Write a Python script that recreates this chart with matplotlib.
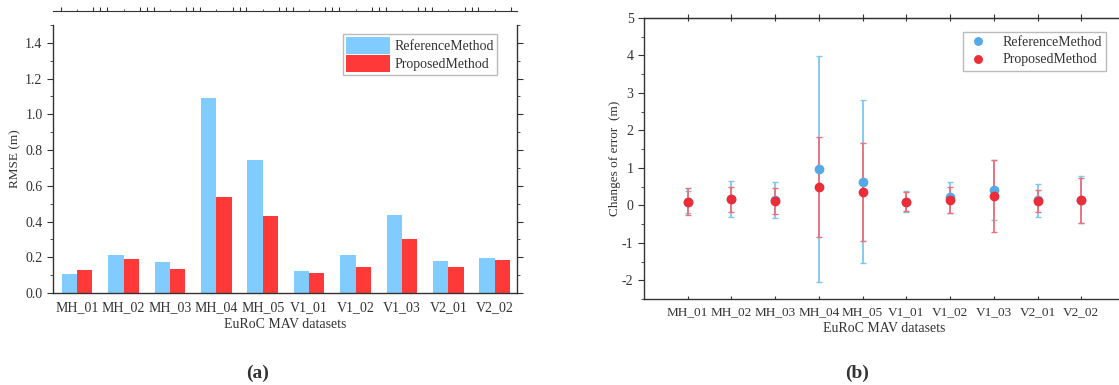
import numpy as np
import matplotlib
matplotlib.use("Agg")
import matplotlib.pyplot as plt
from matplotlib.ticker import MultipleLocator, FixedLocator, NullFormatter

plt.rcParams['font.family'] = ['Liberation Serif', 'DejaVu Serif']
plt.rcParams['axes.unicode_minus'] = False
plt.rcParams['text.color'] = '#333333'
plt.rcParams['axes.labelcolor'] = '#333333'
plt.rcParams['xtick.color'] = '#333333'
plt.rcParams['ytick.color'] = '#333333'

# Data ==================================================================================================================
datasets = ["MH_01", "MH_02", "MH_03", "MH_04", "MH_05", "V1_01", "V1_02", "V1_03", "V2_01", "V2_02"]

rmse_ref = [0.105, 0.215, 0.175, 1.09, 0.745, 0.125, 0.21, 0.435, 0.18, 0.195]
rmse_prop = [0.13, 0.19, 0.135, 0.54, 0.43, 0.11, 0.145, 0.305, 0.148, 0.185]

mean_ref = [0.09, 0.165, 0.15, 0.965, 0.635, 0.10, 0.21, 0.41, 0.13, 0.15]
err_ref = [0.30, 0.48, 0.48, 3.02, 2.17, 0.29, 0.42, 0.81, 0.45, 0.63]
mean_prop = [0.10, 0.16, 0.12, 0.485, 0.35, 0.10, 0.14, 0.26, 0.12, 0.14]
err_prop = [0.36, 0.34, 0.35, 1.34, 1.31, 0.26, 0.35, 0.96, 0.30, 0.60]

blue_bar = '#80CCFF'
red_bar = '#FF3838'
blue_dot = '#55AAE6'
red_dot = '#EC2D38'
blue_err = '#7CC8F0'
red_err = '#EE6F7A'

fig = plt.figure(figsize=(11.19, 3.85), dpi=100)
x = np.arange(len(datasets))

# (a) RMSE bars =========================================================================================================
ax1 = fig.add_axes([53/1119, 92/385, 464/1119, 268/385])
w = 0.33
ax1.bar(x - w/2, rmse_ref, w, color=blue_bar, label='ReferenceMethod')
ax1.bar(x + w/2, rmse_prop, w, color=red_bar, label='ProposedMethod')
ax1.set_xlim(-0.52, 9.48)
ax1.set_ylim(0, 1.5)
ax1.set_xticks(x)
ax1.set_xticklabels(datasets, fontsize=10)
ax1.tick_params(axis='x', length=0, pad=6)
ax1.yaxis.set_major_locator(MultipleLocator(0.2))
ax1.yaxis.set_minor_locator(MultipleLocator(0.1))
ax1.yaxis.set_major_formatter(plt.FormatStrFormatter('%.1f'))
ax1.tick_params(axis='y', which='major', length=4, labelsize=10, direction='out', right=True)
ax1.tick_params(axis='y', which='minor', length=2, direction='out', right=True)
ax1.set_ylabel('RMSE (m)', fontsize=9.5, labelpad=3)
ax1.set_xlabel('EuRoC MAV datasets', fontsize=10, labelpad=3)
for s in ax1.spines.values():
    s.set_color('#333333')
    s.set_linewidth(1.0)

top = ax1.secondary_xaxis('top')
top.xaxis.set_major_locator(FixedLocator(sorted(list(x - 0.35) + list(x + 0.35) + list(x[:-1] + 0.5))))
top.xaxis.set_minor_locator(FixedLocator(list(x)))
top.xaxis.set_major_formatter(NullFormatter())
top.tick_params(which='major', length=3, direction='out', color='#333333')
top.tick_params(which='minor', length=1.5, direction='out', color='#333333')
top.spines['top'].set_position(('outward', 10))
top.spines['top'].set_color('#333333')
ax1.spines['top'].set_visible(False)

leg1 = ax1.legend(loc='upper right', bbox_to_anchor=(0.956, 0.966), fontsize=10, frameon=True,
                  fancybox=False, edgecolor='#aaaaaa', handlelength=3.2, handleheight=1.5,
                  borderpad=0.2, labelspacing=0.1, handletextpad=0.3, borderaxespad=0)

# (b) Changes of error ==================================================================================================
ax2 = fig.add_axes([644/1119, 86/385, 481/1119, 281/385])
ax2.errorbar(x, mean_ref, yerr=err_ref, fmt='none', ecolor=blue_err, elinewidth=1.3, capsize=2, capthick=1)
ax2.errorbar(x, mean_prop, yerr=err_prop, fmt='none', ecolor=red_err, elinewidth=1.3, capsize=2, capthick=1)
ax2.plot(x, mean_ref, 'o', color=blue_dot, ms=6, label='ReferenceMethod', linestyle='none')
ax2.plot(x, mean_prop, 'o', color=red_dot, ms=6, label='ProposedMethod', linestyle='none')
ax2.set_xlim(-1, 10)
ax2.set_ylim(-2.5, 5)
ax2.set_xticks(x)
ax2.set_xticklabels(datasets, fontsize=9.5)
ax2.tick_params(axis='x', length=2.5, direction='in', top=True, pad=5)
ax2.yaxis.set_major_locator(MultipleLocator(1))
ax2.yaxis.set_minor_locator(MultipleLocator(0.5))
ax2.tick_params(axis='y', which='major', length=4, labelsize=10, direction='out')
ax2.tick_params(axis='y', which='minor', length=2, direction='out')
ax2.set_ylabel('Changes of error  (m)', fontsize=9.5, labelpad=1)
ax2.set_xlabel('EuRoC MAV datasets', fontsize=10, labelpad=3)
for s in ax2.spines.values():
    s.set_color('#333333')
    s.set_linewidth(1.0)

top2 = ax2.secondary_xaxis('top')
top2.set_xticks(x)
top2.xaxis.set_major_formatter(NullFormatter())
top2.tick_params(length=3, direction='out', color='#333333')
top2.spines['top'].set_color('#333333')

leg2 = ax2.legend(loc='upper right', bbox_to_anchor=(0.96, 0.95), fontsize=10, frameon=True,
                  fancybox=False, edgecolor='#aaaaaa', handlelength=1.5, markerscale=0.9,
                  borderpad=0.3, labelspacing=0.3, handletextpad=1.0, borderaxespad=0)

fig.text(258/1119, 1 - 373/385, '(a)', fontsize=14, fontweight='bold', ha='center', va='center')
fig.text(857/1119, 1 - 373/385, '(b)', fontsize=14, fontweight='bold', ha='center', va='center')

fig.savefig('out.png', dpi=100)
